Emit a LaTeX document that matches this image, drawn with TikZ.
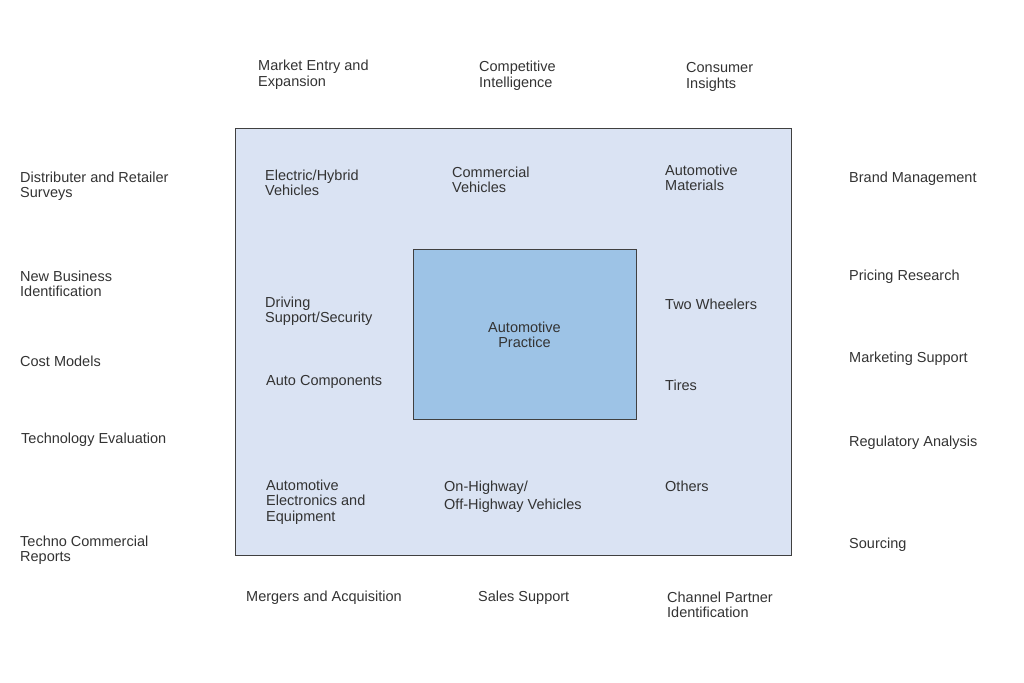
\documentclass[tikz,border=0pt]{standalone}
\usepackage{fontspec}
\setmainfont{Liberation Sans}
\usepackage{tikz}
\definecolor{outerblue}{HTML}{DAE3F3}
\definecolor{innerblue}{HTML}{9DC3E6}
\definecolor{labelgray}{HTML}{333333}
\definecolor{framegray}{HTML}{404040}

\begin{document}
\begin{tikzpicture}[x=1pt, y=-1pt]
					\tikzstyle{frame}=[draw=framegray, line width=0.9pt]
					\tikzstyle{lbl}=[anchor=west, align=left, inner sep=0pt, text=labelgray, font=\fontsize{14.5}{15.5}\selectfont]
					
					\useasboundingbox (0,0) rectangle (1024,682);
					
					% Draw the two boxes
					\draw[frame, fill=outerblue] (235,128) rectangle (791,555);
					\draw[frame, fill=innerblue] (413,249) rectangle (636,419);
					\node[lbl, anchor=center, align=center] (practice) at (524.5,335) {Automotive\\Practice};
					
					% Top row
					\node[lbl] (entry) at (258,75) {Market Entry and\\Expansion};
					\node[lbl] (intel) at (479,76) {Competitive\\Intelligence};
					\node[lbl] (insights) at (686,77) {Consumer\\Insights};
					
					% Left column
					\node[lbl] (surveys) at (20,186) {Distributer and Retailer\\Surveys};
					\node[lbl] (newbiz) at (20,284) {New Business\\Identification};
					\node[lbl] (cost) at (20,361) {Cost Models};
					\node[lbl] (techeval) at (21,440) {Technology Evaluation};
					\node[lbl] (techno) at (20,550) {Techno Commercial\\Reports};
					
					% Right column
					\node[lbl] (brand) at (849,179) {Brand Management};
					\node[lbl] (pricing) at (849,277) {Pricing Research};
					\node[lbl] (marketing) at (849,359) {Marketing Support};
					\node[lbl] (regulatory) at (849,443) {Regulatory Analysis};
					\node[lbl] (sourcing) at (849,545) {Sourcing};
					
					% Bottom row
					\node[lbl] (mergers) at (246,598) {Mergers and Acquisition};
					\node[lbl] (sales) at (478,598) {Sales Support};
					\node[lbl] (channel) at (667,605) {Channel Partner\\Identification};
					
					% Segments inside the outer box
					\node[lbl] (electric) at (265,183) {Electric/Hybrid\\Vehicles};
					\node[lbl] (commercial) at (452,180) {Commercial\\Vehicles};
					\node[lbl] (materials) at (665,178) {Automotive\\Materials};
					\node[lbl] (driving) at (265,311) {Driving\\Support/Security};
					\node[lbl] (components) at (266,382) {Auto Components};
					\node[lbl] (twowheel) at (665,304) {Two Wheelers};
					\node[lbl] (tires) at (665,385) {Tires};
					\node[lbl] (electronics) at (266,502) {Automotive\\Electronics and\\Equipment};
					\node[lbl, font=\fontsize{14.5}{18}\selectfont] (highway) at (444,497) {On-Highway/\\Off-Highway Vehicles};
					\node[lbl] (others) at (665,486) {Others};
					
				\end{tikzpicture}
\end{document}
